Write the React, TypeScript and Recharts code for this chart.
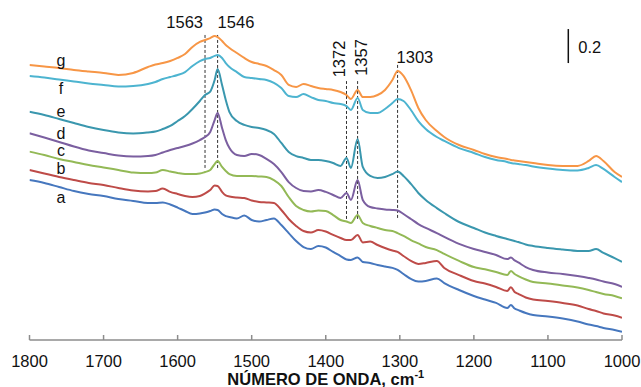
import React from 'react';
import { LineChart, Line, XAxis, YAxis, ReferenceLine, ReferenceDot } from 'recharts';

const FONT = '"Liberation Sans", Arial, Helvetica, sans-serif';

// Wavenumber grid (cm-1)
const wavenumbers = [
  1800, 1780, 1760, 1740, 1720, 1700, 1680, 1660, 1640, 1630,
  1620, 1610, 1600, 1590, 1580, 1570, 1563, 1556, 1550, 1546,
  1540, 1535, 1530, 1520, 1510, 1500, 1490, 1480, 1470, 1460,
  1450, 1440, 1430, 1420, 1410, 1400, 1390, 1380, 1372, 1366,
  1357, 1350, 1340, 1330, 1320, 1310, 1303, 1295, 1285, 1275,
  1265, 1250, 1240, 1220, 1200, 1185, 1170, 1155, 1150, 1145,
  1140, 1130, 1120, 1100, 1080, 1060, 1045, 1035, 1025, 1010,
  1000,
];

// Absorbance (offset traces, u.a.)
const seriesA = [
  0.941, 0.924, 0.900, 0.876, 0.859, 0.847, 0.829, 0.818, 0.806, 0.806,
  0.809, 0.797, 0.779, 0.759, 0.741, 0.744, 0.750, 0.759, 0.768, 0.765,
  0.741, 0.729, 0.724, 0.715, 0.732, 0.706, 0.697, 0.706, 0.715, 0.676,
  0.629, 0.582, 0.547, 0.535, 0.553, 0.544, 0.518, 0.494, 0.474, 0.471,
  0.486, 0.459, 0.453, 0.441, 0.432, 0.424, 0.412, 0.388, 0.359, 0.344,
  0.347, 0.362, 0.335, 0.294, 0.259, 0.238, 0.218, 0.188, 0.206, 0.185,
  0.176, 0.159, 0.147, 0.138, 0.126, 0.109, 0.091, 0.082, 0.071, 0.059,
  0.049,
];
const seriesB = [
  1.000, 0.979, 0.959, 0.941, 0.924, 0.912, 0.894, 0.879, 0.874, 0.876,
  0.891, 0.871, 0.859, 0.847, 0.841, 0.847, 0.862, 0.882, 0.909, 0.906,
  0.871, 0.850, 0.844, 0.838, 0.835, 0.821, 0.812, 0.809, 0.806, 0.765,
  0.712, 0.671, 0.641, 0.632, 0.647, 0.638, 0.618, 0.600, 0.588, 0.588,
  0.618, 0.574, 0.579, 0.559, 0.541, 0.526, 0.518, 0.494, 0.465, 0.447,
  0.453, 0.465, 0.424, 0.382, 0.347, 0.332, 0.312, 0.288, 0.310, 0.282,
  0.271, 0.250, 0.238, 0.229, 0.218, 0.203, 0.182, 0.171, 0.156, 0.144,
  0.131,
];
const seriesC = [
  1.108, 1.088, 1.065, 1.047, 1.029, 1.015, 1.000, 0.985, 0.982, 0.985,
  1.000, 0.991, 0.982, 0.976, 0.976, 0.979, 0.988, 1.000, 1.035, 1.053,
  1.018, 0.994, 0.976, 0.965, 0.965, 0.965, 0.962, 0.959, 0.941, 0.906,
  0.841, 0.788, 0.765, 0.756, 0.762, 0.759, 0.735, 0.706, 0.697, 0.688,
  0.735, 0.688, 0.671, 0.659, 0.647, 0.641, 0.629, 0.612, 0.588, 0.568,
  0.547, 0.529, 0.506, 0.465, 0.429, 0.416, 0.400, 0.382, 0.406, 0.388,
  0.376, 0.356, 0.341, 0.332, 0.321, 0.309, 0.294, 0.282, 0.271, 0.259,
  0.245,
];
const seriesD = [
  1.216, 1.191, 1.165, 1.138, 1.115, 1.100, 1.085, 1.079, 1.082, 1.088,
  1.103, 1.118, 1.129, 1.141, 1.156, 1.176, 1.194, 1.224, 1.294, 1.335,
  1.247, 1.176, 1.129, 1.088, 1.082, 1.094, 1.088, 1.065, 1.035, 0.988,
  0.929, 0.894, 0.876, 0.874, 0.882, 0.871, 0.853, 0.835, 0.865, 0.824,
  0.941, 0.824, 0.782, 0.774, 0.768, 0.765, 0.762, 0.741, 0.712, 0.682,
  0.659, 0.629, 0.606, 0.565, 0.535, 0.518, 0.500, 0.476, 0.485, 0.468,
  0.456, 0.429, 0.412, 0.397, 0.388, 0.376, 0.365, 0.356, 0.344, 0.329,
  0.312,
];
const seriesE = [
  1.343, 1.324, 1.300, 1.276, 1.253, 1.235, 1.221, 1.215, 1.221, 1.226,
  1.241, 1.259, 1.288, 1.318, 1.359, 1.406, 1.441, 1.461, 1.529, 1.594,
  1.500, 1.412, 1.341, 1.288, 1.265, 1.253, 1.247, 1.235, 1.212, 1.159,
  1.106, 1.082, 1.071, 1.059, 1.059, 1.053, 1.041, 1.024, 1.071, 1.012,
  1.182, 1.018, 0.965, 0.953, 0.959, 0.976, 0.991, 0.965, 0.918, 0.865,
  0.824, 0.776, 0.747, 0.694, 0.659, 0.632, 0.612, 0.594, 0.588, 0.582,
  0.576, 0.562, 0.553, 0.541, 0.532, 0.524, 0.524, 0.535, 0.512, 0.482,
  0.459,
];
const seriesF = [
  1.553, 1.544, 1.532, 1.521, 1.509, 1.500, 1.491, 1.494, 1.506, 1.518,
  1.535, 1.547, 1.559, 1.576, 1.612, 1.641, 1.653, 1.659, 1.671, 1.676,
  1.659, 1.629, 1.606, 1.576, 1.547, 1.541, 1.535, 1.529, 1.512, 1.482,
  1.435, 1.429, 1.447, 1.429, 1.412, 1.406, 1.394, 1.388, 1.376, 1.353,
  1.424, 1.353, 1.335, 1.335, 1.359, 1.394, 1.418, 1.406, 1.353, 1.288,
  1.241, 1.194, 1.171, 1.129, 1.100, 1.076, 1.059, 1.047, 1.041, 1.038,
  1.035, 1.029, 1.021, 1.009, 1.000, 0.997, 1.012, 1.029, 1.006, 0.959,
  0.929,
];
const seriesG = [
  1.618, 1.609, 1.600, 1.588, 1.579, 1.571, 1.559, 1.571, 1.606, 1.621,
  1.629, 1.641, 1.659, 1.682, 1.724, 1.753, 1.765, 1.776, 1.788, 1.782,
  1.759, 1.735, 1.718, 1.688, 1.659, 1.635, 1.624, 1.612, 1.588, 1.559,
  1.500, 1.488, 1.506, 1.494, 1.482, 1.476, 1.471, 1.459, 1.441, 1.418,
  1.471, 1.429, 1.429, 1.441, 1.471, 1.529, 1.582, 1.553, 1.471, 1.365,
  1.294, 1.229, 1.194, 1.147, 1.118, 1.094, 1.076, 1.065, 1.059, 1.056,
  1.053, 1.047, 1.041, 1.029, 1.024, 1.024, 1.053, 1.082, 1.053, 0.988,
  0.959,
];

const seriesKeys = ['a', 'b', 'c', 'd', 'e', 'f', 'g'];
const seriesValues = [seriesA, seriesB, seriesC, seriesD, seriesE, seriesF, seriesG];
const seriesColors = ['#4677BE', '#BE4B48', '#93B956', '#7B5FA0', '#3A97AE', '#4DB4D0', '#F79646'];
const seriesLabelWn = 1757.5;
const seriesLabelY = [0.835, 1.006, 1.112, 1.212, 1.341, 1.476, 1.641];

const xTicks = [1800, 1700, 1600, 1500, 1400, 1300, 1200, 1100, 1000];

// Marked bands (dashed guide lines)
const bandWn = [1563, 1546, 1372, 1357, 1303];
const bandTop = [1.800, 1.800, 1.523, 1.523, 1.623];
const bandBottom = [1.012, 1.012, 0.712, 0.712, 0.718];
const bandLabelY = [1.835, 1.835, 1.653, 1.662, 1.628];

// Scale bar (0.2 absorbance units)
const scaleBarWn = 1072.5;
const scaleBarBottom = 1.629;
const scaleBarSize = 0.2;

const rows = wavenumbers.map((wn, i) => {
  const r: Record<string, number> = { wn };
  seriesKeys.forEach((k, j) => {
    r[k] = seriesValues[j][i];
  });
  return r;
});

const AxisTick = (props: any) => {
  const { x, y, payload } = props;
  return (
    <g>
      <line x1={x} x2={x} y1={y} y2={y - 5} stroke="#8c8c8c" strokeWidth={1.5} />
      <text x={x} y={y + 26.5} textAnchor="middle" fontSize={16.5} fill="#111" fontFamily={FONT}>
        {payload.value}
      </text>
    </g>
  );
};

const xAxisLabel = (props: any) => {
  const vb = props.viewBox || {};
  const cx = vb.x + vb.width / 2;
  return (
    <text x={cx} y={vb.y + 45} textAnchor="middle" fontSize={16.5} fontWeight="bold" fill="#111" fontFamily={FONT}>
      NÚMERO DE ONDA, cm
      <tspan fontSize={11} dy={-7}>-1</tspan>
    </text>
  );
};

const yAxisLabel = (props: any) => {
  const vb = props.viewBox || {};
  const x = vb.x - 6.5;
  const y = vb.y + 158.5;
  return (
    <text x={x} y={y} transform={`rotate(-90 ${x} ${y})`} textAnchor="middle" fontSize={16.5} fontWeight="bold" fill="#111" fontFamily={FONT}>
      ABSORBANCIA (u.a.)
    </text>
  );
};

const pointText = (text: string, dx: number, anchor: string, rotated: boolean, extra: any = {}) => (props: any) => {
  const vb = props.viewBox || {};
  const x = (vb.x ?? 0) + (vb.width ?? 0) / 2 + dx;
  const y = (vb.y ?? 0) + (vb.height ?? 0) / 2;
  if (rotated) {
    return (
      <text x={x} y={y} transform={`rotate(-90 ${x} ${y})`} textAnchor="middle" fontSize={16.5} fill="#111" fontFamily={FONT}>
        {text}
      </text>
    );
  }
  return (
    <text x={x} y={y} textAnchor={anchor} fontSize={16.5} fill="#111" fontFamily={FONT} {...extra}>
      {text}
    </text>
  );
};

const bandLabelRenderers = [
  pointText('1563', -2, 'end', false),
  pointText('1546', 0, 'start', false),
  pointText('1372', -1, 'middle', true),
  pointText('1357', 9, 'middle', true),
  pointText('1303', -1, 'start', false),
];

export default function App() {
  return (
    <div style={{ position: 'absolute', left: 0, top: 0, width: 641, height: 387, background: '#fff' }}>
      <LineChart width={641} height={387} data={rows} margin={{ top: 9, right: 19, bottom: 0, left: 29.5 }}>
        <XAxis
          dataKey="wn"
          type="number"
          domain={[1000, 1800]}
          reversed
          ticks={xTicks}
          interval={0}
          tick={<AxisTick />}
          tickLine={false}
          tickSize={0}
          tickMargin={0}
          height={47}
          allowDataOverflow
          axisLine={{ stroke: '#8c8c8c', strokeWidth: 1.5 }}
          label={xAxisLabel}
        />
        <XAxis
          xAxisId="top"
          orientation="top"
          type="number"
          domain={[1000, 1800]}
          reversed
          height={0}
          tick={false}
          tickLine={false}
          axisLine={{ stroke: '#111', strokeWidth: 1.5 }}
        />
        <YAxis
          type="number"
          domain={[0, 1.947]}
          width={0}
          tick={false}
          tickLine={false}
          allowDataOverflow
          axisLine={{ stroke: '#8c8c8c', strokeWidth: 1.5 }}
          label={yAxisLabel}
        />
        <YAxis
          yAxisId="right"
          orientation="right"
          type="number"
          domain={[0, 1.947]}
          width={0}
          tick={false}
          tickLine={false}
          axisLine={{ stroke: '#c4c4c4', strokeWidth: 2 }}
        />
        {bandWn.map((wn, i) => (
          <ReferenceLine
            key={`band-${wn}`}
            segment={[{ x: wn, y: bandBottom[i] }, { x: wn, y: bandTop[i] }]}
            stroke="#333"
            strokeWidth={1}
            strokeDasharray="3 2"
          />
        ))}
        {seriesKeys.map((k, i) => (
          <Line
            key={k}
            dataKey={k}
            type="monotone"
            stroke={seriesColors[i]}
            strokeWidth={2}
            dot={false}
            activeDot={false}
            isAnimationActive={false}
          />
        ))}
        {bandWn.map((wn, i) => (
          <ReferenceDot
            key={`bandlabel-${wn}`}
            x={wn}
            y={bandLabelY[i]}
            r={0}
            fill="none"
            stroke="none"
            label={bandLabelRenderers[i]}
          />
        ))}
        {seriesKeys.map((k, i) => (
          <ReferenceDot
            key={`lbl-${k}`}
            x={seriesLabelWn}
            y={seriesLabelY[i]}
            r={0}
            fill="none"
            stroke="none"
            label={pointText(k, 0, 'middle', false, { dy: 5, fontSize: 16 })}
          />
        ))}
        <ReferenceLine
          segment={[{ x: scaleBarWn, y: scaleBarBottom }, { x: scaleBarWn, y: scaleBarBottom + scaleBarSize }]}
          stroke="#111"
          strokeWidth={1.5}
        />
        <ReferenceDot
          x={scaleBarWn}
          y={1.686}
          r={0}
          fill="none"
          stroke="none"
          label={pointText('0.2', 10, 'start', false)}
        />
      </LineChart>
    </div>
  );
}
